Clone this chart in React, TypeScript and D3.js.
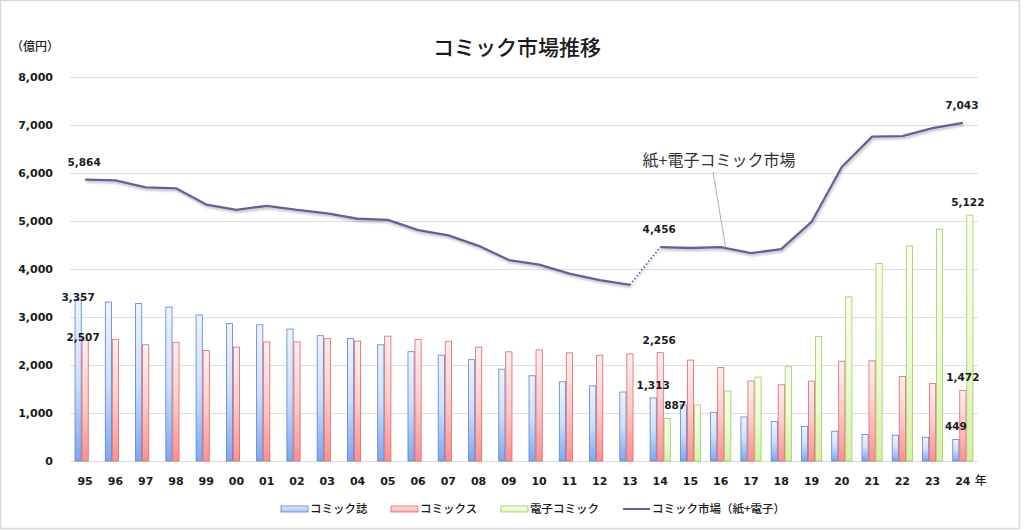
import React from "react";
import * as d3 from "d3";

const years = ["95","96","97","98","99","00","01","02","03","04","05","06","07","08","09","10","11","12","13","14","15","16","17","18","19","20","21","22","23","24"];
const magazine = [3357,3312,3279,3207,3041,2861,2837,2748,2611,2549,2421,2277,2204,2111,1913,1776,1650,1564,1438,1313,1166,1016,917,824,722,621,554,537,495,449];
const comics = [2507,2535,2421,2473,2302,2372,2480,2482,2549,2498,2602,2533,2495,2372,2274,2315,2253,2202,2231,2256,2102,1947,1666,1588,1665,2079,2087,1759,1612,1472];
const digital: (number | null)[] = [null,null,null,null,null,null,null,null,null,null,null,null,null,null,null,null,null,null,null,887,1169,1460,1747,1965,2593,3420,4114,4479,4830,5122];
const total = [5864,5847,5700,5680,5343,5233,5317,5230,5160,5047,5023,4810,4699,4483,4187,4091,3903,3766,3669,4456,4437,4454,4330,4414,4980,6126,6759,6770,6937,7043];
const yTicks = [0,1000,2000,3000,4000,5000,6000,7000,8000];
const seriesNames = ["コミック誌","コミックス","電子コミック","コミック市場（紙+電子）"];
const title = "コミック市場推移";
const unitLabel = "（億円）";
const annotation = "紙+電子コミック市場";
const paperEndYear = "13";
const eStartYear = "14";

const W = 1024, H = 530;
const left = 70, right = 978, top = 77, bottom = 461;
const JP = "'Noto Sans CJK JP', 'Noto Sans', sans-serif";
const NUM = "'DejaVu Sans', Verdana, sans-serif";

const fmt = d3.format(",");

export default function App() {
  const x = d3.scaleBand<string>().domain(years).range([left, right]).padding(0);
  const bw = x.bandwidth();
  const barW = 7;
  const groupOff = (bw - barW * 3) / 2;
  const sub = d3.scaleBand<string>().domain(["mag","com","dig"]).range([groupOff, groupOff + barW * 3]).padding(0);
  const y = d3.scaleLinear().domain([0, 8000]).range([bottom, top]);
  const cx = (yr: string) => (x(yr) as number) + bw / 2;

  const series = [
    { key: "mag", data: magazine as (number | null)[], grad: "gBlue", stroke: "#5b80d0" },
    { key: "com", data: comics as (number | null)[], grad: "gRed", stroke: "#e06464" },
    { key: "dig", data: digital, grad: "gGreen", stroke: "#a2c86c" },
  ];

  const splitA = years.indexOf(paperEndYear);
  const splitB = years.indexOf(eStartYear);
  const idx = years.map((_, i) => i);
  const mk = d3.line<number>().x((i) => cx(years[i])).y((i) => y(total[i]));
  const paperPath = mk(idx.slice(0, splitA + 1));
  const ePath = mk(idx.slice(splitB));
  const dotPath = mk([splitA, splitB]);

  const barX = (yr: string, k: string) => (x(yr) as number) + (sub(k) as number);

  const barLabels: { k: string; yr: string; v: number; dx: number; dy: number }[] = [
    { k: "mag", yr: "95", v: magazine[0], dx: 0, dy: 10 },
    { k: "com", yr: "95", v: comics[0], dx: -2, dy: 9 },
    { k: "mag", yr: "14", v: magazine[19], dx: 0, dy: 0 },
    { k: "com", yr: "14", v: comics[19], dx: -1, dy: 0 },
    { k: "dig", yr: "14", v: digital[19] as number, dx: 8, dy: 0 },
    { k: "com", yr: "24", v: comics[29], dx: 0, dy: 0 },
    { k: "mag", yr: "24", v: magazine[29], dx: 0, dy: 0 },
    { k: "dig", yr: "24", v: digital[29] as number, dx: -2, dy: 0 },
  ];
  const lineLabels = ["95", "14", "24"];

  const i16 = years.indexOf("16");
  const leaderEnd = { x: cx("16") + 5, y: y(total[i16] + (total[i16 + 1] - total[i16]) * 5 / bw) };

  const legendItems = [
    { x: 281, type: "bar", grad: "gBlueH", stroke: "#5b80d0", text: seriesNames[0] },
    { x: 391, type: "bar", grad: "gRedH", stroke: "#e06464", text: seriesNames[1] },
    { x: 501, type: "bar", grad: "gGreenH", stroke: "#a2c86c", text: seriesNames[2] },
    { x: 623, type: "line", grad: "", stroke: "#6a5b9c", text: seriesNames[3] },
  ];

  return (
    <svg width={W} height={H} style={{ position: "absolute", left: 0, top: 0, background: "#fff" }}>
      <defs>
        <linearGradient id="gBlue" x1="0" y1="0" x2="0" y2="1">
          <stop offset="0" stopColor="#eef4ff" />
          <stop offset="0.5" stopColor="#cfdffc" />
          <stop offset="1" stopColor="#7ea6ee" />
        </linearGradient>
        <linearGradient id="gRed" x1="0" y1="0" x2="0" y2="1">
          <stop offset="0" stopColor="#fff0f0" />
          <stop offset="0.5" stopColor="#ffcccc" />
          <stop offset="1" stopColor="#ff9090" />
        </linearGradient>
        <linearGradient id="gGreen" x1="0" y1="0" x2="0" y2="1">
          <stop offset="0" stopColor="#f8ffe8" />
          <stop offset="0.5" stopColor="#eefcd2" />
          <stop offset="1" stopColor="#d6f1a6" />
        </linearGradient>
        <linearGradient id="gBlueH" x1="0" y1="0" x2="0" y2="1">
          <stop offset="0" stopColor="#e4eeff" />
          <stop offset="1" stopColor="#a8c4f6" />
        </linearGradient>
        <linearGradient id="gRedH" x1="0" y1="0" x2="0" y2="1">
          <stop offset="0" stopColor="#ffe6e6" />
          <stop offset="1" stopColor="#ffb0b0" />
        </linearGradient>
        <linearGradient id="gGreenH" x1="0" y1="0" x2="0" y2="1">
          <stop offset="0" stopColor="#f6ffe4" />
          <stop offset="1" stopColor="#e2f6c0" />
        </linearGradient>
        <filter id="shadow" x="-5%" y="-20%" width="110%" height="140%">
          <feDropShadow dx="1" dy="2" stdDeviation="1.2" floodColor="#000" floodOpacity="0.25" />
        </filter>
      </defs>

      <rect x={0.5} y={0.5} width={1019} height={528} fill="#fff" stroke="#d9d9d9" strokeWidth={1.5} />

      <text x={517} y={55} textAnchor="middle" fontFamily={JP} fontSize={21} fontWeight={500} fill="#1a1a1a">{title}</text>
      <text x={35} y={51} textAnchor="middle" fontFamily={JP} fontSize={12} fontWeight={500} fill="#222">{unitLabel}</text>

      {yTicks.map((t) => (
        <g key={t}>
          <line x1={left} x2={right} y1={Math.round(y(t)) + 0.5} y2={Math.round(y(t)) + 0.5} stroke="#dcdcdc" strokeWidth={1} />
          <text x={53} y={y(t) + 4} textAnchor="end" fontFamily={NUM} fontSize={11} fontWeight="bold" fill="#1a1a1a">{fmt(t)}</text>
        </g>
      ))}

      {series.map((s) =>
        s.data.map((v, i) =>
          v == null ? null : (
            <rect
              key={s.key + i}
              x={barX(years[i], s.key) + 0.4}
              y={y(v)}
              width={barW - 0.8}
              height={y(0) - y(v)}
              fill={`url(#${s.grad})`}
              stroke={s.stroke}
              strokeWidth={0.8}
            />
          )
        )
      )}

      {years.map((yr) => (
        <text key={yr} x={cx(yr)} y={485} textAnchor="middle" fontFamily={NUM} fontSize={11} fontWeight="bold" fill="#1a1a1a">{yr}</text>
      ))}
      <text x={cx("24") + 18} y={485} textAnchor="middle" fontFamily={JP} fontSize={12} fontWeight={500} fill="#1a1a1a">年</text>

      <g filter="url(#shadow)">
        <path d={paperPath || ""} fill="none" stroke="#6a5b9c" strokeWidth={2.3} strokeLinejoin="round" />
        <path d={ePath || ""} fill="none" stroke="#6a5b9c" strokeWidth={2.3} strokeLinejoin="round" />
        <path d={dotPath || ""} fill="none" stroke="#6a5b9c" strokeWidth={1.8} strokeDasharray="1.5 2.2" />
      </g>

      <line x1={713} y1={172} x2={leaderEnd.x} y2={leaderEnd.y} stroke="#9a9a9a" strokeWidth={0.8} />
      <text x={719} y={166} textAnchor="middle" fontFamily={JP} fontSize={16} fill="#333">{annotation}</text>

      {barLabels.map((l, i) => (
        <text key={i} x={barX(l.yr, l.k) + barW / 2 + l.dx} y={y(l.v) - 9 + l.dy} textAnchor="middle" fontFamily={NUM} fontSize={10.5} fontWeight="bold" fill="#1a1a1a">{fmt(l.v)}</text>
      ))}
      {lineLabels.map((yr) => {
        const v = total[years.indexOf(yr)];
        return (
          <text key={yr} x={cx(yr) - 1} y={y(v) - 14} textAnchor="middle" fontFamily={NUM} fontSize={10.5} fontWeight="bold" fill="#1a1a1a">{fmt(v)}</text>
        );
      })}

      {legendItems.map((it, i) => (
        <g key={i}>
          {it.type === "bar" ? (
            <rect x={it.x} y={506} width={27} height={6} fill={`url(#${it.grad})`} stroke={it.stroke} strokeWidth={0.8} />
          ) : (
            <line x1={it.x} x2={it.x + 27} y1={509} y2={509} stroke={it.stroke} strokeWidth={2} />
          )}
          <text x={it.x + 29} y={513} fontFamily={JP} fontSize={11.5} fontWeight={500} fill="#1a1a1a">{it.text}</text>
        </g>
      ))}
    </svg>
  );
}
